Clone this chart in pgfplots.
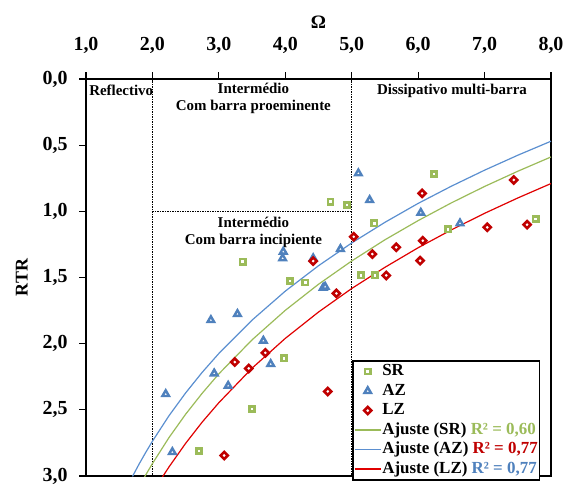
\documentclass[border=0pt]{standalone}
\usepackage{pgfplots}
\pgfplotsset{compat=1.18}
\usepackage{fontspec}
\setmainfont{Liberation Serif}
\usetikzlibrary{calc}
\definecolor{srg}{HTML}{9BBB59}
\definecolor{azb}{HTML}{4F81BD}
\definecolor{lzr}{HTML}{C00000}
\definecolor{srline}{HTML}{9BBB59}
\definecolor{azline}{HTML}{5B8FD0}
\definecolor{lzline}{HTML}{E00000}

\pgfplotstableread{
x y
4.68 0.927
4.93 0.952
6.24 0.718
5.34 1.091
6.45 1.136
7.77 1.058
4.30 1.537
5.14 1.484
5.35 1.484
3.36 1.381
4.07 1.525
3.98 2.111
3.50 2.494
2.70 2.810
}\srdata

\pgfplotstableread{
x y
5.10 0.713
5.27 0.915
6.04 1.011
6.63 1.091
4.83 1.285
4.42 1.355
4.57 1.578
4.60 1.570
3.97 1.305
3.96 1.355
2.88 1.822
3.28 1.776
3.67 1.978
3.78 2.154
2.93 2.225
3.14 2.318
2.20 2.381
2.30 2.819
}\azdata

\pgfplotstableread{
x y
6.06 0.864
7.44 0.763
5.03 1.192
6.07 1.222
5.67 1.272
5.31 1.323
7.04 1.121
7.64 1.101
6.03 1.373
5.52 1.484
4.42 1.376
4.77 1.620
3.24 2.139
3.45 2.187
3.70 2.069
4.64 2.361
3.08 2.845
}\lzdata

\begin{document}
\begin{tikzpicture}
\begin{axis}[
  name=ax,
  scale only axis, width=465bp, height=397bp,
  xmin=1, xmax=8, ymin=0, ymax=3,
  y dir=reverse,
  xtick={1,2,...,8}, ytick={0,0.5,1,1.5,2,2.5,3},
  xtick pos=right, xticklabel pos=right,
  ytick pos=left, yticklabel pos=left,
  tick align=outside,
  major tick length=7bp,
  tick style={black, line width=1.2bp},
  axis line style={black, line width=1.6bp},
  /pgf/number format/use comma,
  /pgf/number format/fixed,
  /pgf/number format/fixed zerofill,
  /pgf/number format/precision=1,
  /pgf/number format/assume math mode=true,
  ticklabel style={font=\bfseries\fontsize{20}{20}\selectfont},
  xticklabel style={yshift=15bp},
  yticklabel style={xshift=-8bp},
  xlabel={Ω},
  ylabel={RTR},
  xlabel style={font=\bfseries\fontsize{19}{19}\selectfont, yshift=2bp},
  ylabel style={font=\bfseries\fontsize{18}{18}\selectfont, yshift=8bp},
  legend image code/.code={\draw[mark repeat=2,mark phase=2,#1] plot coordinates {(0bp,0bp) (13bp,0bp) (26bp,0bp)};},
  legend style={at={(axis cs:5.01,2.124)}, anchor=north west, draw=black, line width=1.5bp, fill=white,
    font=\bfseries\fontsize{17}{19}\selectfont, inner xsep=1bp, inner ysep=1bp, row sep=0bp,
    nodes={inner sep=1bp, text height=13bp, text depth=4.5bp}},
  legend cell align=left,
]
\addplot[forget plot, black, densely dotted, line width=1.5bp] coordinates {(2,0) (2,3)};
\addplot[forget plot, black, densely dotted, line width=1.5bp] coordinates {(5,0) (5,3)};
\addplot[forget plot, black, densely dotted, line width=1.5bp] coordinates {(2,1) (5,1)};

\node[font=\bfseries\fontsize{15}{17}\selectfont] at (axis cs:1.53,0.085) {Reflectivo};
\node[font=\bfseries\fontsize{15}{17}\selectfont, align=center] at (axis cs:3.52,0.15) {Intermédio\\Com barra proeminente};
\node[font=\bfseries\fontsize{15}{17}\selectfont] at (axis cs:6.51,0.088) {Dissipativo multi-barra};
\node[font=\bfseries\fontsize{15}{17}\selectfont, align=center] at (axis cs:3.52,1.16) {Intermédio\\Com barra incipiente};

\addplot[only marks, mark=square*, mark size=2.6bp, mark options={draw=srg, fill=white, line width=2.6bp}] table {\srdata};
\addlegendentry{SR}
\addplot[only marks, mark=triangle*, mark size=3.8bp, mark options={draw=azb, fill=white, line width=2.4bp}] table {\azdata};
\addlegendentry{AZ}
\addplot[only marks, mark=square*, mark size=2.5bp, mark options={draw=lzr, fill=white, line width=2.6bp, rotate=45}] table {\lzdata};
\addlegendentry{LZ}

\addplot[no markers, color=srline, line width=1.2bp] coordinates {
(1.88,3.009) (1.9,2.991) (2,2.906) (2.25,2.709) (2.5,2.533) (2.75,2.374) (3,2.228) (3.5,1.971) (4,1.748) (4.5,1.551) (5,1.375) (5.5,1.215) (6,1.070) (6.5,0.936) (7,0.812) (7.5,0.697) (8,0.589)};
\addlegendentry{Ajuste (SR) \textcolor{srg}{R² = 0,60}}
\addplot[no markers, color=azline, line width=1.2bp] coordinates {
(1.7,3.003) (1.8,2.909) (1.9,2.821) (2,2.737) (2.25,2.544) (2.5,2.372) (2.75,2.216) (3,2.074) (3.5,1.822) (4,1.603) (4.5,1.411) (5,1.239) (5.5,1.083) (6,0.940) (6.5,0.810) (7,0.689) (7.5,0.576) (8,0.470)};
\addlegendentry{Ajuste (AZ) \textcolor{lzr}{R² = 0,77}}
\addplot[no markers, color=lzline, line width=1.2bp] coordinates {
(2.15,3.008) (2.25,2.931) (2.5,2.753) (2.75,2.592) (3,2.446) (3.5,2.185) (4,1.960) (4.5,1.761) (5,1.583) (5.5,1.423) (6,1.275) (6.5,1.140) (7,1.015) (7.5,0.899) (8,0.790)};
\addlegendentry{Ajuste (LZ) \textcolor{azb}{R² = 0,77}}
\end{axis}
\pgfresetboundingbox
\path ($(ax.north west)+(-86bp,79bp)$) rectangle ($(ax.south east)+(23bp,-8bp)$);
\end{tikzpicture}
\end{document}
